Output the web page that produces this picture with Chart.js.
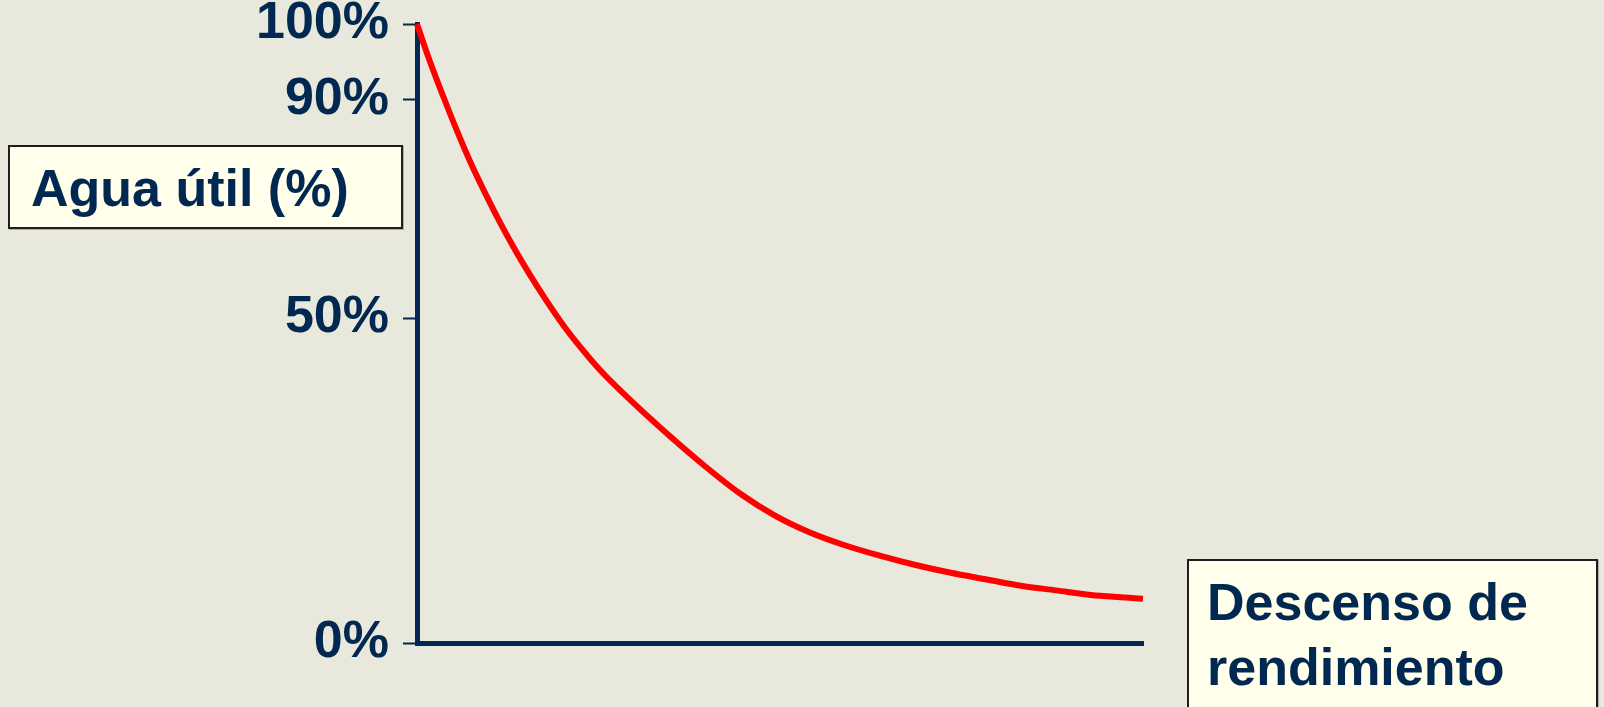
<!DOCTYPE html>
<html>
<head>
<meta charset="utf-8">
<script src="https://cdn.jsdelivr.net/npm/chart.js@4/dist/chart.umd.min.js"></script>
<style>
  html, body { margin: 0; padding: 0; width: 1604px; height: 707px; overflow: hidden; background: #E8E8DC; }
  #wrap { position: relative; width: 1604px; height: 707px; }
  #c { position: absolute; left: 0; top: 0; }
  .box {
    position: absolute; box-sizing: border-box;
    background: #FFFFEC; border: 2px solid #1E1E1E;
    box-shadow: 1px 1px 0 rgba(0,0,0,0.25);
    font-family: "Liberation Sans", Arial, sans-serif; font-weight: bold;
    font-size: 52px; line-height: 65px; color: #012850; white-space: nowrap;
  }
  #ytitle { left: 8px; top: 145px; width: 395px; height: 84px; padding: 8.5px 0 0 21px; }
  #xtitle { left: 1187px; top: 559px; width: 411px; height: 152px; padding: 8.5px 0 0 18px; }
</style>
</head>
<body>
<div id="wrap">
  <canvas id="c" width="1604" height="707"></canvas>
  <div class="box" id="ytitle">Agua útil (%)</div>
  <div class="box" id="xtitle">Descenso de<br>rendimiento</div>
</div>
<script>
// Yield decline (x, relative units) and available soil water (y, %)
const descenso = [0, 1.72, 3.62, 5.47, 7.30, 9.37, 11.43, 13.50, 15.56, 17.87, 20.15,
                  22.45, 25.21, 28.42, 34.85, 39.67, 44.49, 49.31, 54.13, 59.02, 63.86,
                  68.69, 73.53, 78.35, 83.18, 88.02, 92.84, 97.66, 100];
const aguaUtil = [100, 95.2, 90.4, 84.4, 78.7, 72.9, 67.5, 62.5, 57.9, 53.1, 48.9,
                  45.6, 42.0, 38.4, 31.8, 27.2, 23.0, 19.6, 17.0, 15.0, 13.4,
                  12.0, 10.8, 9.8, 8.8, 8.1, 7.4, 7.0, 6.8];

// Tick values on the water axis and their labels
const tickValues = [0, 50, 90, 100];
const tickLabels = ['0%', '50%', '90%', '100%'];

// The water axis is drawn schematically: each tick value sits at its own
// fraction of the axis height, with linear spacing in between.
const axisBreaks = [0, 0.525, 0.878, 1];

const NAVY = '#012850';

class PiecewiseScale extends Chart.LinearScale {
  static id = 'piecewise';
  static defaults = Chart.LinearScale.defaults;

  _toDecimal(v) {
    for (let i = 1; i < tickValues.length; i++) {
      if (v <= tickValues[i] || i === tickValues.length - 1) {
        const a = tickValues[i - 1], b = tickValues[i];
        return axisBreaks[i - 1] + (v - a) / (b - a) * (axisBreaks[i] - axisBreaks[i - 1]);
      }
    }
    return 0;
  }
  _fromDecimal(d) {
    for (let i = 1; i < axisBreaks.length; i++) {
      if (d <= axisBreaks[i] || i === axisBreaks.length - 1) {
        const a = axisBreaks[i - 1], b = axisBreaks[i];
        return tickValues[i - 1] + (d - a) / (b - a) * (tickValues[i] - tickValues[i - 1]);
      }
    }
    return 0;
  }
  getPixelForValue(value) {
    return value === null ? NaN : this.getPixelForDecimal(this._toDecimal(value));
  }
  getValueForPixel(pixel) {
    return this._fromDecimal(this.getDecimalForPixel(pixel));
  }
}
Chart.register(PiecewiseScale);

new Chart(document.getElementById('c'), {
  type: 'line',
  data: {
    datasets: [{
      data: descenso.map((x, i) => ({ x: x, y: aguaUtil[i] })),
      borderColor: '#FF0000',
      borderWidth: 6,
      pointRadius: 0,
      cubicInterpolationMode: 'monotone',
      clip: false
    }]
  },
  options: {
    responsive: false,
    animation: false,
    devicePixelRatio: 1,
    layout: { padding: { top: 24, left: 0, right: 461, bottom: 64 } },
    plugins: { legend: { display: false }, tooltip: { enabled: false } },
    scales: {
      x: {
        type: 'linear', min: 0, max: 100,
        ticks: { display: false },
        grid: { drawOnChartArea: false, drawTicks: false, color: NAVY },
        border: { display: true, color: NAVY, width: 5 },
        afterFit(scale) { scale.height = 0; scale.paddingLeft = 0; scale.paddingRight = 0; }
      },
      y: {
        type: 'piecewise', min: 0, max: 100,
        afterBuildTicks(scale) { scale.ticks = tickValues.map(v => ({ value: v })); },
        afterFit(scale) { scale.width = 417; scale.paddingTop = 0; scale.paddingBottom = 0; },
        ticks: {
          padding: 14,
          color: NAVY,
          font: { family: '"Liberation Sans", Arial, sans-serif', weight: 'bold', size: 52 },
          callback: (value, index) => tickLabels[index]
        },
        grid: {
          drawOnChartArea: false, drawTicks: true,
          tickLength: 14, tickWidth: 2, tickColor: NAVY, color: NAVY
        },
        border: { display: true, color: NAVY, width: 5 }
      }
    }
  }
});
</script>
</body>
</html>
